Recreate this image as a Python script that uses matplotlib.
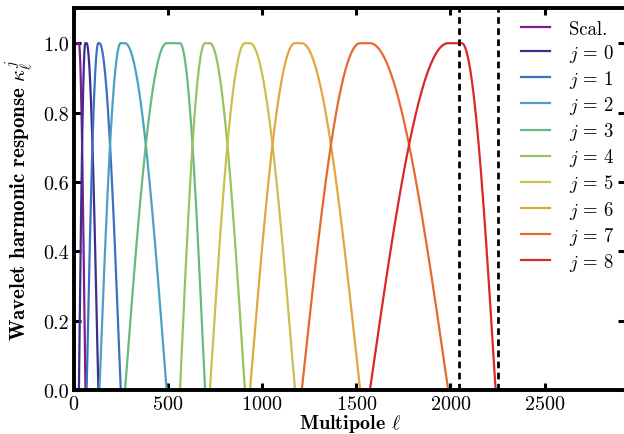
import numpy as np
import matplotlib
matplotlib.use("Agg")
import matplotlib.pyplot as plt

plt.rcParams['font.family'] = 'serif'
plt.rcParams['font.serif'] = ['cmr10']
plt.rcParams['mathtext.fontset'] = 'cm'
plt.rcParams['axes.formatter.use_mathtext'] = True

# band labels and colours
labels = ['Scal.', r'$j\,=\,0$', r'$j\,=\,1$', r'$j\,=\,2$', r'$j\,=\,3$', r'$j\,=\,4$',
          r'$j\,=\,5$', r'$j\,=\,6$', r'$j\,=\,7$', r'$j\,=\,8$']
colors = ['#7e1e8c', '#3d2d8e', '#3f6fc0', '#4aa2c2', '#68b882', '#98c25e',
          '#c9c04e', '#e2a63e', '#e46a30', '#da2828']

# transition windows between consecutive bands (start, end in multipole)
trans_start = [26, 67, 135, 271, 563, 722, 935, 1210, 1572, 2060]
trans_end = [60, 129, 248, 492, 696, 908, 1174, 1520, 1988, 2240]

# vertical markers
vlines = [2048, 2250]

ell = np.arange(0, 2931, 0.5)


def rise(l, s, e):
    t = np.clip((l - s) / (e - s), 0, 1)
    return np.sin(np.pi / 2 * t)


def fall(l, s, e):
    t = np.clip((l - s) / (e - s), 0, 1)
    return np.cos(np.pi / 2 * t)


fig = plt.figure(figsize=(6.24, 4.35), dpi=100)
ax = fig.add_axes([0.1186, 0.1007, 0.8838, 0.8775])

# scaling function
ax.plot(ell, fall(ell, trans_start[0], trans_end[0]), color=colors[0], lw=1.6, label=labels[0])
# wavelets
for j in range(9):
    k = rise(ell, trans_start[j], trans_end[j]) * fall(ell, trans_start[j + 1], trans_end[j + 1])
    ax.plot(ell, k, color=colors[j + 1], lw=1.6, label=labels[j + 1])

for v in vlines:
    ax.axvline(v, color='black', ls='--', lw=2.0, dashes=(2.4, 1.6))

ax.set_xlim(0, 2930)
ax.set_ylim(0, 1.1)
ax.set_xticks([0, 500, 1000, 1500, 2000, 2500])
ax.set_yticks([0.0, 0.2, 0.4, 0.6, 0.8, 1.0])
ax.set_yticklabels(['0.0', '0.2', '0.4', '0.6', '0.8', '1.0'])

for s in ax.spines.values():
    s.set_linewidth(2.8)
ax.tick_params(direction='in', length=5, width=2.2, top=True, right=True,
               labelsize=14.5, pad=3.5)

ax.set_xlabel(r'Multipole $\ell$', fontsize=14.5, fontfamily='cmb10', labelpad=-1)
ax.set_ylabel(r'Wavelet harmonic response $\kappa_\ell^j$', fontsize=15,
              fontfamily='cmb10', labelpad=5)

ax.legend(loc='upper right', frameon=False, fontsize=13.5, handlelength=1.55,
          handletextpad=1.0, labelspacing=0.22, borderaxespad=0.2)

fig.savefig('out.png', dpi=100)
